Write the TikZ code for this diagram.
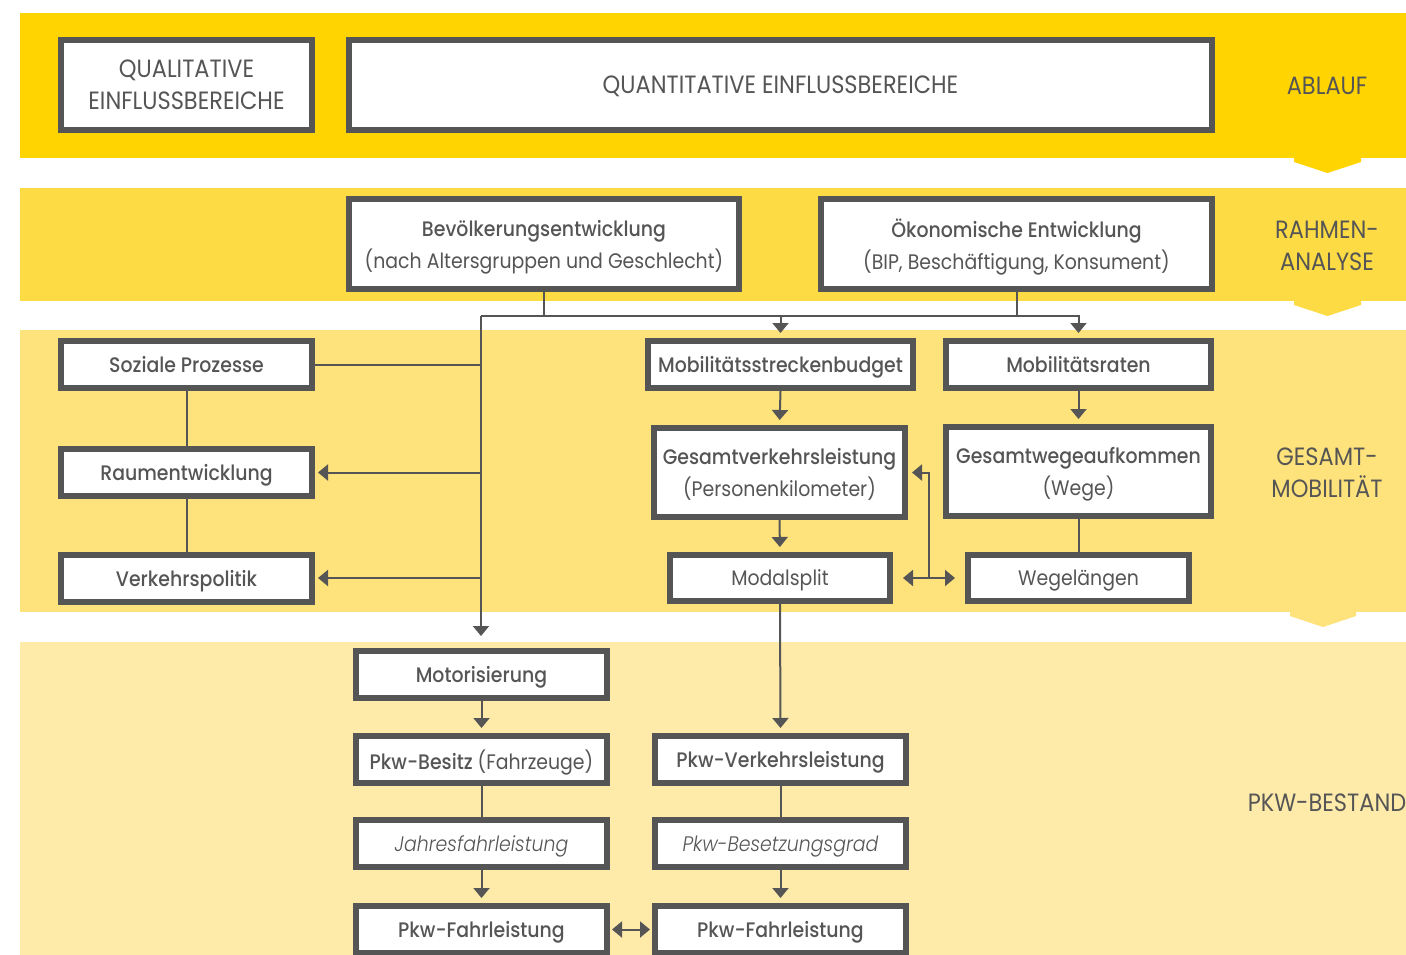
\documentclass[tikz,border=0pt]{standalone}
\usepackage{fontspec}
\setmainfont{Poppins}[FakeStretch=0.9, BoldFont={Poppins Medium}, ItalicFont={Poppins Light Italic}]
\usetikzlibrary{arrows.meta}
\usetikzlibrary{calc}

\definecolor{ablauf}{HTML}{FFD400}
\definecolor{rahmen}{HTML}{FDDB45}
\definecolor{gesamt}{HTML}{FEE27B}
\definecolor{bestand}{HTML}{FEEBAA}
\definecolor{frame}{HTML}{555555}

\begin{document}
\begin{tikzpicture}[
	x = 1pt, y = -1pt,
	box/.style = {
	  draw = frame, line width = 6pt, fill = white,
	  text = frame, align = center,
	  inner sep = 0pt, text depth = 0pt,
	  font = \fontsize{21}{32}\selectfont,
	},
	dims/.style 2 args = {
	  minimum width = #1-6, minimum height = #2-6,
	},
	caps/.style = {font = \fontsize{25}{32}\selectfont},
	level/.style = {
	  text = frame, align = center, caps,
	},
	link/.style = {frame, line width = 2pt},
	arr/.style = {link, -{Triangle[width=16pt, length=10pt]}, shorten >= 5pt},
	both/.style = {link, {Triangle[width=16pt, length=10pt]}-{Triangle[width=16pt, length=10pt]}},
  ]

  \useasboundingbox (0,0) rectangle (1406,955);

  % bands
  \fill[ablauf]  (20,13)  rectangle (1406,158);
  \fill[rahmen]  (20,188) rectangle (1406,301);
  \fill[gesamt]  (20,330) rectangle (1406,612);
  \fill[bestand] (20,642) rectangle (1406,955);
  \fill[ablauf] (1294,157) -- (1361,157) -- (1361,162) -- (1327.5,173) -- (1294,162) -- cycle;
  \fill[rahmen] (1294,300) -- (1361,300) -- (1361,305) -- (1327.5,316) -- (1294,305) -- cycle;
  \fill[gesamt] (1290,611) -- (1356,611) -- (1356,616) -- (1323,627) -- (1290,616) -- cycle;

  \node[level] (ablauf)  at (1327,86)  {ABLAUF};
  \node[level] (rahmen)  at (1327,246) {RAHMEN-\\ANALYSE};
  \node[level] (gesamt)  at (1327,473) {GESAMT-\\MOBILITÄT};
  \node[level] (bestand) at (1327,803) {PKW-BESTAND};

  % boxes
  \node[box, caps, dims={257}{96}] (qual)  at (186.5,85) {QUALITATIVE\\EINFLUSSBEREICHE};
  \node[box, caps, dims={869}{96}] (quant) at (780.5,85) {QUANTITATIVE EINFLUSSBEREICHE};

  \node[box, dims={396}{96}] (bev) at (544,244)
	{\textbf{Bevölkerungsentwicklung}\\(nach Altersgruppen und Geschlecht)};
  \node[box, dims={397}{96}] (oek) at (1016.5,244)
	{\textbf{Ökonomische Entwicklung}\\(BIP, Beschäftigung, Konsument)};

  \node[box, dims={257}{53}] (soz)  at (186.5,364.5) {\textbf{Soziale Prozesse}};
  \node[box, dims={257}{53}] (raum) at (186.5,472.5) {\textbf{Raumentwicklung}};
  \node[box, dims={257}{53}] (vpol) at (186.5,578)   {\textbf{Verkehrspolitik}};

  \node[box, dims={271}{53}] (msb)   at (780.5,364.5)  {\textbf{Mobilitätsstreckenbudget}};
  \node[box, dims={271}{53}] (mrat)  at (1078.5,364.5) {\textbf{Mobilitätsraten}};
  \node[box, dims={257}{95}] (gvl)   at (779.5,472.5)  {\textbf{Gesamtverkehrsleistung}\\(Personenkilometer)};
  \node[box, dims={271}{95}] (gwa)   at (1078.5,471.5) {\textbf{Gesamtwegeaufkommen}\\(Wege)};
  \node[box, dims={226}{52}] (modal) at (780,578)      {Modalsplit};
  \node[box, dims={227}{52}] (wegl)  at (1078.5,578)   {Wegelängen};

  \node[box, dims={257}{53}] (motor)  at (481.5,674.5) {\textbf{Motorisierung}};
  \node[box, dims={257}{53}] (besitz) at (481.5,759.5) {\textbf{Pkw-Besitz} (Fahrzeuge)};
  \node[box, dims={257}{53}] (jahres) at (481.5,843.5) {\textit{Jahresfahrleistung}};
  \node[box, dims={257}{53}] (fahrL)  at (481.5,929.5) {\textbf{Pkw-Fahrleistung}};
  \node[box, dims={257}{53}] (pvl)    at (780.5,759.5) {\textbf{Pkw-Verkehrsleistung}};
  \node[box, dims={257}{53}] (besetz) at (780.5,843.5) {\textit{Pkw-Besetzungsgrad}};
  \node[box, dims={257}{53}] (fahrR)  at (780.5,929.5) {\textbf{Pkw-Fahrleistung}};

  % connectors
  \coordinate (hub)  at (481,316);
  \coordinate (down) at (481,636);
  \coordinate (fork) at (929,578);

  \draw[link] (bev.south) -- (bev.south |- hub);
  \draw[link] (oek.south) -- (oek.south |- hub);
  \draw[arr] (hub) -| (mrat.north);
  \draw[arr] (msb.north |- hub) -- (msb.north);
  \draw[link, -{Triangle[width=16pt, length=10pt]}] (hub) -- (down);

  \draw[link] (soz.east) -- (soz.east -| hub);
  \draw[arr, shorten >= 3pt] (raum.east -| hub) -- (raum.east);
  \draw[arr, shorten >= 3pt] (vpol.east -| hub) -- (vpol.east);
  \draw[link] (soz.south) -- (raum.north);
  \draw[link] (raum.south) -- (vpol.north);

  \draw[arr] (msb.south) -- (gvl.north);
  \draw[arr] (mrat.south) -- (gwa.north);
  \draw[arr] (gvl.south) -- (modal.north);
  \draw[link] (gwa.south) -- (wegl.north);
  \draw[both, shorten <= 10pt, shorten >= 10pt] (modal.east) -- (wegl.west);
  \draw[arr, shorten >= 4pt] (fork) |- (gvl.east);
  \draw[arr] (modal.south) -- (pvl.north);

  \draw[arr] (motor.south) -- (besitz.north);
  \draw[link] (besitz.south) -- (jahres.north);
  \draw[arr] (jahres.south) -- (fahrL.north);
  \draw[link] (pvl.south) -- (besetz.north);
  \draw[arr] (besetz.south) -- (fahrR.north);
  \draw[both, shorten <= 2pt, shorten >= 2pt] (fahrL.east) -- (fahrR.west);
\end{tikzpicture}
\end{document}
